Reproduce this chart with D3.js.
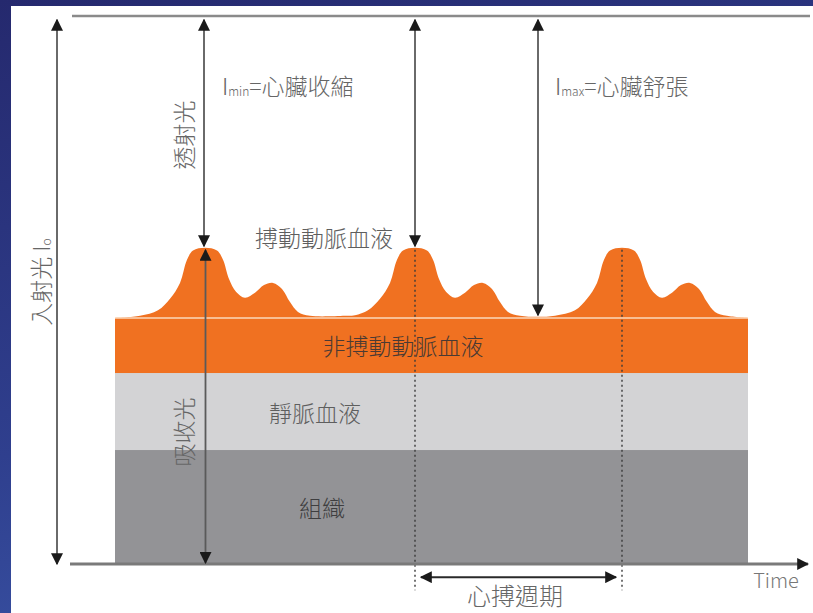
<!DOCTYPE html>
<html>
<head>
<meta charset="utf-8">
<script src="https://cdn.jsdelivr.net/npm/d3@7"></script>
<style>
  html, body { margin: 0; padding: 0; }
  body { width: 813px; height: 613px; overflow: hidden;
         background: linear-gradient(165deg, #25296e 0%, #2f3f8e 55%, #3d5bae 100%); }
  text { font-family: "Noto Sans CJK TC", "Noto Sans", sans-serif; font-weight: 300; }
</style>
</head>
<body>
<div id="chart"></div>
<script>
// time axis (arbitrary units) and light intensity (% of incident light)
var layerNames = ["組織", "靜脈血液", "非搏動動脈血液"];
var layerBottoms = [0, 20.8, 34.85];
var layerTops = [20.8, 34.85, 44.9];
var layerColors = ["#939396", "#d3d3d5", "#f07121"];
var stackTime = [47, 680];
var incident = 100;

// pulsatile arterial blood (upper edge of the orange hump)
var pulseTime = [47, 72, 90, 102, 112, 119, 125, 137, 149, 155, 161, 168, 177, 187, 196, 205, 214, 222, 230, 242, 277,
                 287, 300, 312, 322, 329, 335, 347, 359, 365, 371, 378, 387, 397, 406, 415, 424, 432, 440, 452, 470,
                 487, 507, 519, 529, 536, 542, 554, 566, 572, 578, 585, 594, 604, 613, 622, 631, 639, 647, 659, 680];
var pulseValue = [44.9, 45.3, 46.3, 48.4, 51.3, 55.5, 57.2, 57.7, 57.2, 55.5, 52.0, 49.7, 48.6, 49.5, 50.9, 51.3, 50.2, 47.8, 46.0, 45.3, 45.3,
                  45.4, 46.3, 48.4, 51.3, 55.5, 57.2, 57.7, 57.2, 55.5, 52.0, 49.7, 48.6, 49.5, 50.9, 51.3, 50.2, 47.8, 46.0, 45.3, 45.1,
                  45.3, 46.3, 48.4, 51.3, 55.5, 57.2, 57.7, 57.2, 55.5, 52.0, 49.7, 48.6, 49.5, 50.9, 51.3, 50.2, 47.8, 46.0, 45.3, 44.9];
var peakTimes = [137, 347, 554];
var peakValue = 57.7;
var minTime = 470;
var minValue = 45.1;

var W = 813, H = 613;
var x = d3.scaleLinear().domain([0, 740]).range([68, 808]);
var y = d3.scaleLinear().domain([0, 100]).range([564, 16]);

var svg = d3.select("#chart").append("svg")
    .attr("width", W).attr("height", H);

// white panel
svg.append("rect").attr("x", 11).attr("y", 6).attr("width", W - 11).attr("height", H - 6).attr("fill", "#fff");

var defs = svg.append("defs");
defs.append("marker")
    .attr("id", "head")
    .attr("viewBox", "0 -5 10 10")
    .attr("refX", 9).attr("refY", 0)
    .attr("markerUnits", "userSpaceOnUse")
    .attr("markerWidth", 12).attr("markerHeight", 12)
    .attr("orient", "auto-start-reverse")
  .append("path")
    .attr("d", "M0,-5L10,0L0,5Z")
    .attr("fill", "#1a1a1a");

// tissue layers
svg.selectAll("rect.layer")
  .data(layerNames)
  .enter().append("rect")
    .attr("class", "layer")
    .attr("x", x(stackTime[0]))
    .attr("width", x(stackTime[1]) - x(stackTime[0]))
    .attr("y", function(d, i) { return y(layerTops[i]); })
    .attr("height", function(d, i) { return y(layerBottoms[i]) - y(layerTops[i]); })
    .attr("fill", function(d, i) { return layerColors[i]; });

// pulsatile part
var pts = pulseTime.map(function(t, i) { return [t, pulseValue[i]]; });
svg.append("path")
    .datum(pts)
    .attr("fill", "#f07121")
    .attr("d", d3.area()
        .x(function(d) { return x(d[0]); })
        .y0(y(layerTops[2]))
        .y1(function(d) { return y(d[1]); })
        .curve(d3.curveCatmullRom));

svg.append("line")
    .attr("x1", x(stackTime[0])).attr("x2", x(stackTime[1]))
    .attr("y1", y(layerTops[2])).attr("y2", y(layerTops[2]))
    .attr("stroke", "#fbd9bb").attr("stroke-width", 1.5);

// dotted cycle markers
peakTimes.slice(1).forEach(function(t) {
    svg.append("line")
        .attr("x1", x(t)).attr("x2", x(t))
        .attr("y1", y(peakValue) + 2).attr("y2", y(-4.8))
        .attr("stroke", "#3a3a3a").attr("stroke-width", 1.4)
        .attr("stroke-dasharray", "2,3");
});

// top line (incident light level) and time axis
svg.append("line")
    .attr("x1", x(4)).attr("x2", x(742))
    .attr("y1", y(incident)).attr("y2", y(incident))
    .attr("stroke", "#8a8a8a").attr("stroke-width", 2.5);
svg.append("line")
    .attr("x1", x(2)).attr("x2", x(740))
    .attr("y1", y(0)).attr("y2", y(0))
    .attr("stroke", "#7a7a7a").attr("stroke-width", 3)
    .attr("marker-end", "url(#head)");

function vArrow(t, v1, v2, both) {
    var l = svg.append("line")
        .attr("x1", x(t)).attr("x2", x(t))
        .attr("y1", y(v1)).attr("y2", y(v2))
        .attr("stroke", "#5a5a5a").attr("stroke-width", 1.8)
        .attr("marker-end", "url(#head)");
    if (both) l.attr("marker-start", "url(#head)");
}
vArrow(-11, 99.3, 0, true);                    // incident light
vArrow(peakTimes[0] - 1, 99.3, peakValue + 0.3, true); // transmitted
vArrow(peakTimes[0] + 0.5, peakValue - 0.4, 0.2, true); // absorbed
vArrow(peakTimes[1], 99.3, peakValue + 0.3, true);
vArrow(minTime, 99.3, minValue + 0.3, true);

// heartbeat period
svg.append("line")
    .attr("x1", x(peakTimes[1]) + 6).attr("x2", x(peakTimes[2]) - 6)
    .attr("y1", y(-2.4)).attr("y2", y(-2.4))
    .attr("stroke", "#2a2a2a").attr("stroke-width", 2)
    .attr("marker-start", "url(#head)").attr("marker-end", "url(#head)");

// labels
function label(txt, px, py, size, color, anchor) {
    return svg.append("text")
        .attr("x", px).attr("y", py)
        .attr("dominant-baseline", "central")
        .attr("text-anchor", anchor || "middle")
        .attr("font-size", size)
        .attr("fill", color)
        .text(txt);
}
label(layerNames[2], 403, (y(layerTops[2]) + y(layerBottoms[2])) / 2, 23, "#4a3a33");
label(layerNames[1], 315, (y(layerTops[1]) + y(layerBottoms[1])) / 2, 23, "#5e5e5e");
label(layerNames[0], 322, (y(layerTops[0]) + y(layerBottoms[0])) / 2, 23, "#3e3e40");
label("搏動動脈血液", 324, 237, 23, "#5e5e5e");
label("心搏週期", 515, 594, 24, "#666");
label("Time", 776, 579, 20, "#777");

function subLabel(px, py, sub, rest, rot) {
    var t = svg.append("text")
        .attr("font-size", 23).attr("fill", "#666")
        .attr("dominant-baseline", "central");
    if (rot) {
        t.attr("transform", "translate(" + px + "," + py + ") rotate(-90)").attr("text-anchor", "middle");
    } else {
        t.attr("x", px).attr("y", py);
    }
    t.append("tspan").text(rot ? "入射光 I" : "I");
    t.append("tspan").attr("font-size", 12).attr("dy", 5).text(sub);
    if (rest) t.append("tspan").attr("dy", -5).text(rest);
}
subLabel(222, 85, "min", "=心臟收縮", false);
subLabel(555, 85, "max", "=心臟舒張", false);
subLabel(40, 282, "o", "", true);

svg.append("text")
    .attr("transform", "translate(183,135) rotate(-90)")
    .attr("text-anchor", "middle").attr("dominant-baseline", "central")
    .attr("font-size", 23).attr("fill", "#666")
    .text("透射光");
svg.append("text")
    .attr("transform", "translate(183,432) rotate(-90)")
    .attr("text-anchor", "middle").attr("dominant-baseline", "central")
    .attr("font-size", 23).attr("fill", "#666")
    .text("吸收光");
</script>
</body>
</html>
